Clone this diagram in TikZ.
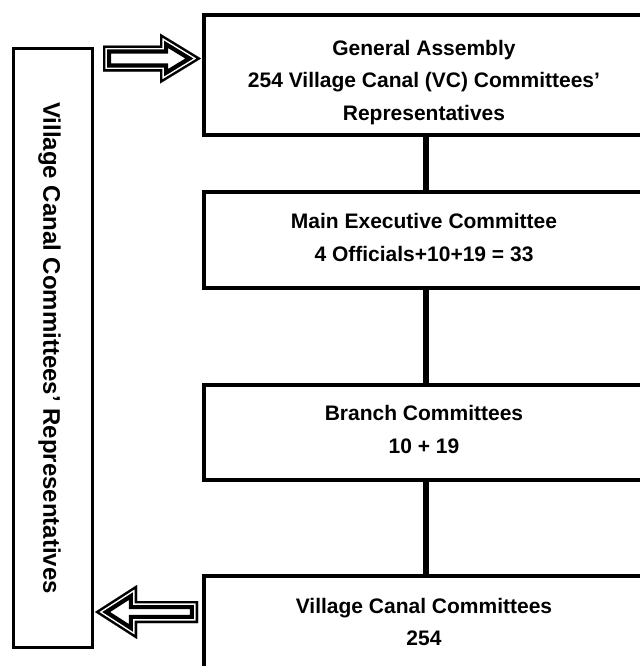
\documentclass[tikz,border=0pt]{standalone}
\usepackage{fontspec}
\setmainfont{Liberation Sans}

% uniform line height so multi-line labels centre predictably
\newcommand\ls{\rule[-3.15pt]{0pt}{11.55pt}}

% hollow block arrow: tail x, tip x, centre y, body half-height, head half-height, head base x
\newcommand\hollowarrow[6]{%
  \def\arrowpoly{(#1,#3-#4) -- (#6,#3-#4) -- (#6,#3-#5) -- (#2,#3) --
    (#6,#3+#5) -- (#6,#3+#4) -- (#1,#3+#4) -- cycle}%
  \begin{scope}[line join=miter, miter limit=30]
    \clip \arrowpoly;
    \fill[white] \arrowpoly;
    \draw[black, line width=8.2pt] \arrowpoly;
    \draw[white, line width=3.8pt] \arrowpoly;
    \draw[black, line width=2.3pt] \arrowpoly;
  \end{scope}}

\begin{document}
\begin{tikzpicture}[x=0.5pt, y=-0.5pt,
  box/.style={draw, line width=2pt, minimum width=222pt, inner sep=0pt},
  sidebox/.style={draw, line width=1.75pt, inner sep=0pt,
    minimum width=39.5pt, minimum height=299.6pt},
  conn/.style={line width=2.75pt},
  boxtext/.style={font=\fontsize{10.5pt}{16.25pt}\selectfont\bfseries,
    align=center, inner sep=0pt},
  sidetext/.style={font=\fontsize{12pt}{14pt}\selectfont\bfseries,
    inner sep=0pt}]
\useasboundingbox (0,0) rectangle (640,666);
\fill[white] (0,0) rectangle (640,666);
\clip (0,0) rectangle (640,666);

% organisation boxes
\node[box, minimum height=60pt]    (b1) at (426,75.3)  {};
\node[box, minimum height=47.75pt] (b2) at (426,239.75) {};
\node[box, minimum height=47.65pt] (b3) at (426,432.35) {};
\node[box, minimum height=47.5pt]  (b4) at (426,623.5) {};

% side column
\node[sidebox] (vc) at (53.2,347.9) {};
\node[sidetext, rotate=-90, anchor=base] (vct) at (43.5,348)
  {Village Canal Committees’ Representatives};

% labels
\node[boxtext] (t1) at (424,82.55)
  {\ls General Assembly\\\ls 254 Village Canal (VC) Committees’\\\ls Representatives};
\node[boxtext] (t2) at (424,239.7)
  {\ls Main Executive Committee\\\ls 4 Officials+10+19 = 33};
\node[boxtext] (t3) at (424,431.75)
  {\ls Branch Committees\\\ls 10 + 19};
\node[boxtext] (t4) at (424,624.25)
  {\ls Village Canal Committees\\\ls 254};

% vertical links
\draw[conn] (b1.south) -- (b2.north);
\draw[conn] (b2.south) -- (b3.north);
\draw[conn] (b3.south) -- (b4.north);

% block arrows to and from the side column
\hollowarrow{103}{201}{58.5}{13}{25}{160}
\hollowarrow{198}{95}{612}{11}{27}{137}
\end{tikzpicture}
\end{document}
